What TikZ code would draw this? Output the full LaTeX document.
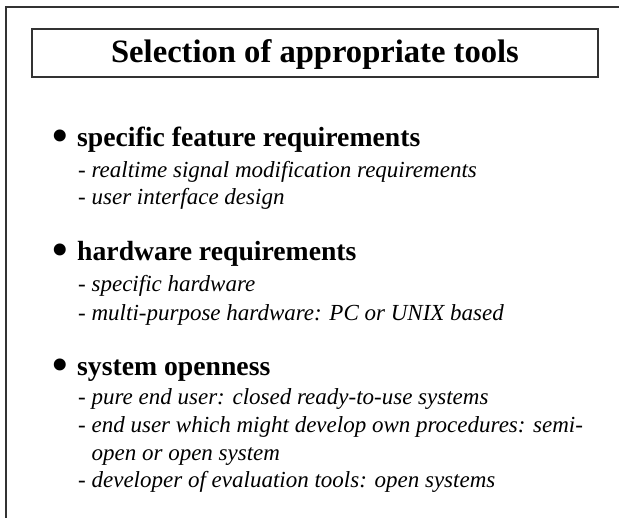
\documentclass[tikz,border=0pt]{standalone}
\usepackage{fontspec}
\setmainfont{Liberation Serif}
\begin{document}
\begin{tikzpicture}[x=1pt, y=-1pt,
    rule/.style={line width=1.4pt, draw=black!80},
    titletext/.style={font=\bfseries\fontsize{32.6}{36}\selectfont, inner sep=0, anchor=base},
    head/.style={font=\bfseries\fontsize{27.7}{30}\selectfont, inner sep=0, anchor=base west},
    sub/.style={font=\itshape\fontsize{23}{26}\selectfont, inner sep=0, anchor=base west},
    dot/.style={font=\fontsize{50}{50}\selectfont, inner sep=0, anchor=center}]
  \useasboundingbox (0,0) rectangle (619,518);

  % page frame (left and top edges only)
  \draw[rule] (6,518) -- (6,7) -- (619,7);

  % title box
  \draw[rule] (32,29) rectangle (598,77);
  \node[titletext] (title) at (315,63) {Selection of appropriate tools};

  % first group
  \node[dot]  (b1) at (60.5,141) {\textbullet};
  \node[head] (h1) at (77,147) {specific feature requirements};
  \node[sub]  (s11) at (78,178) {- realtime signal modification requirements};
  \node[sub]  (s12) at (78,205) {- user interface design};

  % second group
  \node[dot]  (b2) at (60.5,255) {\textbullet};
  \node[head] (h2) at (77,261) {hardware requirements};
  \node[sub]  (s21) at (78,292) {- specific hardware};
  \node[sub]  (s22) at (78,321) {- multi-purpose hardware: PC or UNIX based};

  % third group
  \node[dot]  (b3) at (60.5,370) {\textbullet};
  \node[head] (h3) at (77,376) {system openness};
  \node[sub]  (s31) at (78,405) {- pure end user: closed ready-to-use systems};
  \node[sub]  (s32) at (78,433) {- end user which might develop own procedures: semi-};
  \node[sub]  (s33) at (78,461) {\phantom{- }open or open system};
  \node[sub]  (s34) at (78,488) {- developer of evaluation tools: open systems};
\end{tikzpicture}
\end{document}
